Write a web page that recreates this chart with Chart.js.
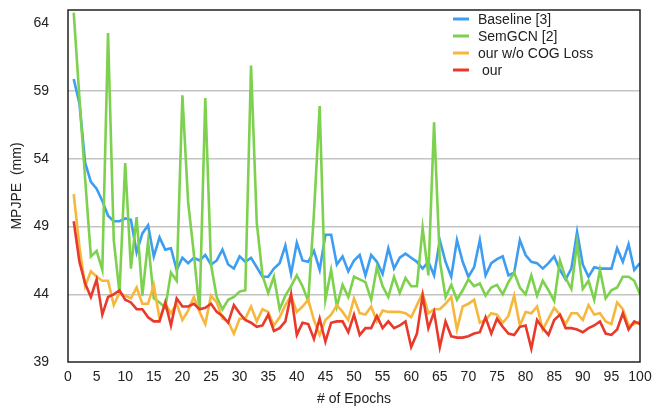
<!DOCTYPE html>
<html lang="en">
  <head>
    <meta charset="UTF-8" />
    <title>MPJPE per epoch</title>
    <script src="https://cdn.jsdelivr.net/npm/chart.js"></script>
    <style>
      body {
        margin: 0;
        padding: 0;
        background: #fff;
      }
      #wrap {
        width: 653px;
        height: 408px;
      }
    </style>
  </head>
  <body>
    <div id="wrap">
      <canvas id="mpjpeChart" width="653" height="408"></canvas>
    </div>

    <script>
      // epochs on the x axis
      const epochs = [
        1, 2, 3, 4, 5, 6, 7, 8, 9, 10, 11, 12, 13, 14, 15, 16, 17, 18, 19, 20,
        21, 22, 23, 24, 25, 26, 27, 28, 29, 30, 31, 32, 33, 34, 35, 36, 37, 38, 39, 40,
        41, 42, 43, 44, 45, 46, 47, 48, 49, 50, 51, 52, 53, 54, 55, 56, 57, 58, 59, 60,
        61, 62, 63, 64, 65, 66, 67, 68, 69, 70, 71, 72, 73, 74, 75, 76, 77, 78, 79, 80,
        81, 82, 83, 84, 85, 86, 87, 88, 89, 90, 91, 92, 93, 94, 95, 96, 97, 98, 99, 100,
      ];

      const baseline = [
        59.9, 58.1, 53.7, 52.3, 51.8, 50.9, 49.8, 49.4, 49.4, 49.6,
        49.5, 47.1, 48.5, 49.1, 46.8, 48.2, 47.3, 47.4, 45.8, 46.7,
        46.3, 46.7, 46.5, 46.9, 46.2, 46.5, 47.3, 46.2, 45.9, 46.8,
        46.4, 46.7, 46.0, 45.3, 45.3, 45.9, 46.3, 47.6, 45.5, 47.8,
        46.5, 46.4, 47.2, 45.8, 48.4, 48.4, 46.2, 46.8, 45.7, 46.5,
        46.9, 45.4, 46.9, 46.4, 45.5, 47.4, 45.9, 46.7, 47.0, 46.7,
        46.4, 45.9, 46.4, 45.4, 48.0, 46.4, 45.3, 48.0, 46.4, 45.3,
        46.0, 48.0, 45.4, 46.3, 46.6, 46.8, 45.4, 45.6, 48.0, 46.9,
        46.4, 46.3, 45.9, 46.3, 46.8, 45.8, 45.1, 45.9, 48.6, 46.2,
        45.3, 46.0, 45.9, 45.9, 45.9, 47.4, 46.4, 47.7, 45.8, 46.3,
      ];

      const semgcn = [
        64.8, 58.5, 52.5, 46.8, 47.2, 45.8, 63.3, 48.0, 44.1, 53.7,
        45.9, 49.7, 43.9, 47.9, 43.7, 43.4, 43.0, 45.6, 45.0, 58.7,
        50.8, 47.0, 42.8, 58.5, 46.2, 43.8, 42.9, 43.6, 43.8, 44.2,
        44.3, 60.9, 49.3, 45.4, 44.1, 45.3, 42.9, 43.9, 44.6, 45.4,
        44.6, 43.5, 50.0, 57.9, 43.6, 45.8, 43.1, 44.7, 43.8, 45.3,
        45.1, 44.9, 43.6, 46.0, 44.6, 43.8, 45.3, 44.1, 45.2, 44.6,
        44.6, 48.9, 45.4, 56.7, 46.5, 43.8, 44.7, 43.6, 44.3, 45.1,
        44.6, 44.8, 43.9, 44.5, 44.7, 44.0, 44.9, 45.6, 44.5, 44.0,
        45.4, 43.9, 45.0, 44.3, 43.5, 46.5, 45.2, 44.4, 47.8, 44.4,
        45.0, 43.6, 45.8, 43.7, 44.3, 44.5, 45.3, 45.3, 45.0, 44.0,
      ];

      const noCogLoss = [
        51.4, 47.5, 44.6, 45.7, 45.3, 45.0, 45.0, 43.2, 44.1, 43.9,
        43.7, 44.5, 43.3, 43.3, 44.7, 42.2, 43.3, 42.6, 43.3, 42.1,
        42.8, 43.8, 42.7, 41.8, 43.9, 43.4, 42.2, 42.0, 41.1, 42.2,
        42.2, 43.1, 42.0, 42.9, 42.7, 41.7, 42.3, 43.2, 43.9, 42.7,
        43.1, 43.6, 42.1, 41.0, 42.1, 42.5, 43.2, 42.7, 42.1, 43.7,
        42.6, 42.5, 43.1, 42.0, 42.8, 42.7, 42.7, 42.7, 42.6, 42.3,
        43.2, 44.1, 42.6, 42.9, 42.9, 43.3, 43.8, 41.4, 43.1, 43.3,
        43.6, 41.9, 42.1, 42.6, 42.5, 41.9, 42.4, 43.9, 41.7, 42.7,
        42.6, 43.1, 41.4, 42.2, 43.0, 42.5, 41.8, 42.6, 42.6, 42.1,
        43.2, 42.5, 42.6, 42.0, 41.8, 43.4, 42.9, 41.7, 41.8, 42.0,
      ];

      const ours = [
        49.4, 46.4, 44.8, 43.8, 45.1, 42.5, 43.8, 44.0, 44.3, 43.6,
        43.4, 42.9, 42.9, 42.3, 42.0, 42.0, 43.4, 41.7, 43.7, 43.1,
        43.1, 43.3, 42.9, 43.0, 43.3, 42.7, 42.4, 41.9, 43.2, 42.6,
        42.1, 41.9, 41.6, 41.7, 42.5, 41.3, 41.5, 42.0, 44.0, 41.0,
        41.9, 41.8, 40.7, 42.2, 40.5, 41.9, 42.0, 42.0, 41.2, 42.5,
        41.0, 41.5, 41.5, 42.4, 41.5, 42.0, 41.5, 41.7, 42.0, 40.1,
        41.1, 43.9, 41.5, 42.7, 40.1, 42.0, 40.9, 40.8, 40.8, 40.9,
        41.1, 41.2, 42.3, 41.1, 42.2, 41.6, 41.1, 41.0, 41.6, 41.7,
        40.0, 42.1, 41.5, 41.0, 42.1, 42.5, 41.5, 41.5, 41.4, 41.2,
        41.5, 41.7, 42.0, 41.1, 41.0, 41.4, 42.6, 41.4, 42.0, 41.8,
      ];

      const seriesNames = ["Baseline [3]", "SemGCN [2]", "our w/o COG Loss", " our"];
      const xTicks = [0, 5, 10, 15, 20, 25, 30, 35, 40, 45, 50, 55, 60, 65, 70, 75, 80, 85, 90, 95, 100];
      const yTicks = [39, 44, 49, 54, 59, 64];

      const colors = ["#3d9df3", "#7dd14f", "#f6b73c", "#e8392b"];
      const allSeries = [baseline, semgcn, noCogLoss, ours];

      const toPoints = (vals) => epochs.map((e, i) => ({ x: e, y: vals[i] }));

      // frame around the plot + legend inside the plot
      const framePlugin = {
        id: "frame",
        afterDatasetsDraw(chart) {
          const { ctx, chartArea: a } = chart;
          ctx.save();
          ctx.strokeStyle = "#222";
          ctx.lineWidth = 1.5;
          ctx.strokeRect(a.left, a.top, a.right - a.left, a.bottom - a.top);

          ctx.font = "14px 'Liberation Sans', Arial, sans-serif";
          ctx.textBaseline = "middle";
          ctx.fillStyle = "#222";
          seriesNames.forEach((name, i) => {
            const y = a.top + 9 + i * 17;
            ctx.strokeStyle = colors[i];
            ctx.lineWidth = 3;
            ctx.beginPath();
            ctx.moveTo(a.left + 385, y);
            ctx.lineTo(a.left + 401, y);
            ctx.stroke();
            ctx.fillText(name, a.left + 410, y + 1);
          });
          ctx.restore();
        },
      };

      Chart.defaults.font.family = "'Liberation Sans', Arial, sans-serif";
      Chart.defaults.font.size = 14;
      Chart.defaults.color = "#222";

      new Chart(document.getElementById("mpjpeChart"), {
        type: "line",
        data: {
          datasets: allSeries.map((vals, i) => ({
            label: seriesNames[i],
            data: toPoints(vals),
            borderColor: colors[i],
            backgroundColor: colors[i],
            borderWidth: 2.6,
            pointRadius: 0,
            tension: 0,
            fill: false,
            order: 4 - i,
          })),
        },
        options: {
          responsive: false,
          animation: false,
          devicePixelRatio: 1,
          layout: { padding: { top: 10, right: 13, left: 0, bottom: 0 } },
          plugins: {
            legend: { display: false },
            tooltip: { enabled: false },
          },
          scales: {
            x: {
              type: "linear",
              min: 0,
              max: 100,
              afterBuildTicks: (s) => {
                s.ticks = xTicks.map((v) => ({ value: v }));
              },
              afterFit: (s) => {
                s.height = 46;
                s.paddingLeft = 0;
                s.paddingRight = 0;
              },
              grid: { display: false, drawTicks: false },
              border: { display: false },
              ticks: { padding: 7, maxRotation: 0, autoSkip: false },
              title: {
                display: true,
                text: "# of Epochs",
                padding: { top: 0, bottom: 0 },
              },
            },
            y: {
              min: 39,
              max: 65,
              afterBuildTicks: (s) => {
                s.ticks = yTicks.map((v) => ({ value: v }));
              },
              afterFit: (s) => {
                s.width = 68;
                s.paddingTop = 0;
                s.paddingBottom = 0;
              },
              grid: {
                drawTicks: false,
                lineWidth: 1.5,
                color: (c) =>
                  c.tick && (c.tick.value === 39 || c.tick.value === 64)
                    ? "rgba(0,0,0,0)"
                    : "#c4c4c4",
              },
              border: { display: false },
              ticks: { padding: 19 },
              title: {
                display: true,
                text: "MPJPE  (mm)",
                padding: { top: 9, bottom: 0 },
              },
            },
          },
        },
        plugins: [framePlugin],
      });
    </script>
  </body>
</html>
